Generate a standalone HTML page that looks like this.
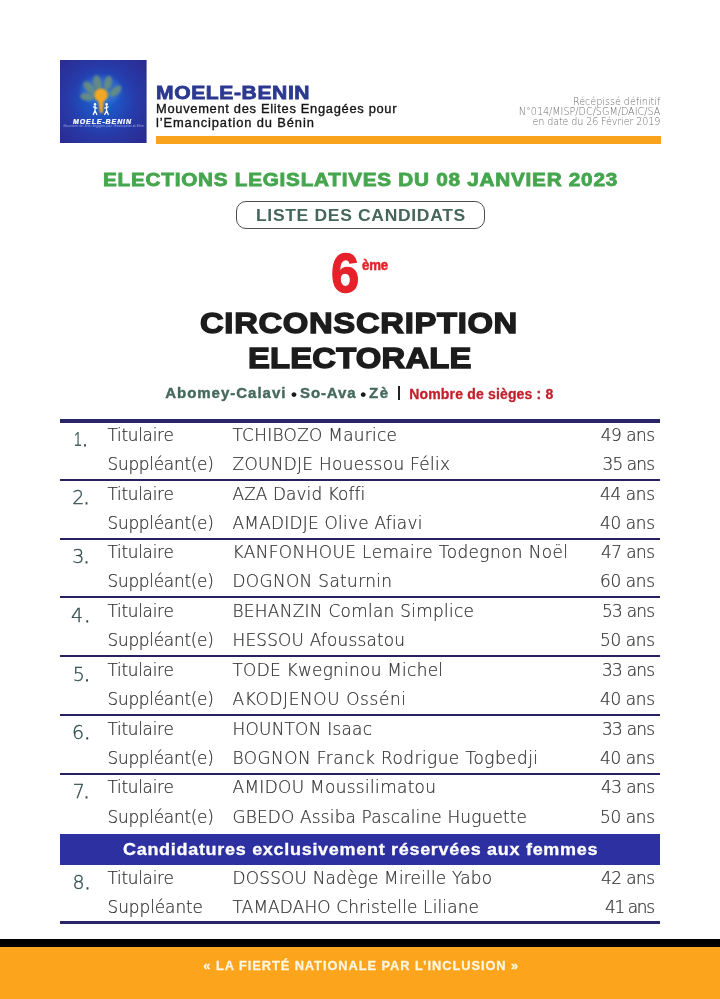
<!DOCTYPE html>
<html lang="fr"><head><meta charset="utf-8"><title>MOELE-BENIN – Liste des candidats</title>
<style>
html,body{margin:0;padding:0;background:#fff;}
body{width:720px;height:999px;position:relative;overflow:hidden;font-family:"Liberation Sans", sans-serif;}
.t{position:absolute;white-space:pre;line-height:0;height:0;display:block;}
.s{position:absolute;}
</style></head><body>
<div class="s" style="left:156px;top:136.2px;width:504.5px;height:7.4px;background:#f9a21c"></div>
<div class="s" style="left:235.5px;top:201px;width:249px;height:27.5px;border:1.4px solid #4d4d4f;border-radius:10px;box-sizing:border-box"></div>
<div class="s" style="left:59.6px;top:419.1px;width:600.6px;height:3.6px;background:#282668"></div>
<div class="s" style="left:60px;top:478.7px;width:600px;height:2px;background:#262262"></div>
<div class="s" style="left:60px;top:537.5px;width:600px;height:2px;background:#262262"></div>
<div class="s" style="left:60px;top:596.2px;width:600px;height:2px;background:#262262"></div>
<div class="s" style="left:60px;top:655px;width:600px;height:2px;background:#262262"></div>
<div class="s" style="left:60px;top:713.8px;width:600px;height:2px;background:#262262"></div>
<div class="s" style="left:60px;top:772.5px;width:600px;height:2px;background:#262262"></div>
<div class="s" style="left:60px;top:833.8px;width:600px;height:30.8px;background:#2d30a0"></div>
<div class="s" style="left:59.6px;top:921px;width:600.6px;height:3.4px;background:#282668"></div>
<div class="s" style="left:0;top:938.7px;width:720px;height:8.6px;background:#000"></div>
<div class="s" style="left:0;top:947px;width:720px;height:52px;background:#fba41c"></div>
<svg class="s" style="left:60px;top:59.5px" width="86.6" height="83.6" viewBox="60 59.5 86.6 83.6">
<defs>
<radialGradient id="lg" gradientUnits="userSpaceOnUse" cx="102" cy="100" r="56"><stop offset="0" stop-color="#1a63d2"/><stop offset=".3" stop-color="#1f50c0"/><stop offset=".62" stop-color="#273aa8"/><stop offset="1" stop-color="#2b2c93"/></radialGradient>
<filter id="b0" x="-40%" y="-40%" width="180%" height="180%"><feGaussianBlur stdDeviation="2.2"/></filter>
<filter id="b1" x="-30%" y="-30%" width="160%" height="160%"><feGaussianBlur stdDeviation="1"/></filter>
<filter id="b2" x="-30%" y="-30%" width="160%" height="160%"><feGaussianBlur stdDeviation=".8"/></filter>
<filter id="b3" x="-30%" y="-30%" width="160%" height="160%"><feGaussianBlur stdDeviation=".3"/></filter>
</defs>
<rect x="60" y="59.5" width="86.6" height="83.6" fill="url(#lg)"/>
<g filter="url(#b0)" fill="#4a8fe0" opacity=".4">
<ellipse cx="101" cy="90" rx="20" ry="14"/>
</g>
<g filter="url(#b1)" fill="#688e80" opacity=".9">
<ellipse cx="87" cy="96.2" rx="7" ry="3.9" transform="rotate(6 87 96.2)"/>
<ellipse cx="89.3" cy="87" rx="7.4" ry="4" transform="rotate(44 89.3 87)"/>
<ellipse cx="97.4" cy="82" rx="4.1" ry="7.4" transform="rotate(-13 97.4 82)"/>
<ellipse cx="108" cy="82.4" rx="4" ry="7.2" transform="rotate(13 108 82.4)"/>
<ellipse cx="115.6" cy="90.6" rx="7.2" ry="3.8" transform="rotate(-44 115.6 90.6)"/>
<ellipse cx="101" cy="94" rx="8.5" ry="6"/>
</g>
<g filter="url(#b2)" fill="#f4a722">
<ellipse cx="101" cy="94.6" rx="6.4" ry="6.6"/>
<path d="M98.2 99 L104 99 L102.8 112.5 L99.8 112.5 Z"/>
</g>
<g filter="url(#b3)" fill="#fff" stroke="#fff" stroke-width="1.3" stroke-linecap="round">
<circle cx="95" cy="103.9" r="1.3" stroke="none"/>
<path d="M95 105.6 L95 110 M95 110 L93.3 114 M95 110 L96.8 114 M93.4 106.5 L96.8 107.6" fill="none"/>
<circle cx="106.6" cy="103.9" r="1.3" stroke="none"/>
<path d="M106.6 105.6 L106.6 110 M106.6 110 L104.8 114 M106.6 110 L108.3 114 M108.2 106.5 L104.8 107.6" fill="none"/>
</g>
<text x="73" y="123.3" font-family="Liberation Sans, sans-serif" font-size="7" font-weight="700" font-style="italic" fill="#fff" stroke="#fff" stroke-width=".25" textLength="58" lengthAdjust="spacing">MOELE-BENIN</text>
<text x="63.5" y="126.9" font-family="Liberation Sans, sans-serif" font-size="2.6" font-style="italic" fill="#a6a9ee" textLength="80.5" lengthAdjust="spacing">Mouvement des Elites Engagées pour l’Emancipation du Bénin</text>
</svg>
<div class="s" style="left:398px;top:386.4px;width:1.6px;height:13.6px;background:#222"></div>

<span class="t" id="t0" style="left:156px;top:92.65px;font-size:19.2px;font-weight:700;color:#2b3990;letter-spacing:0.532px;-webkit-text-stroke:0.8px #2b3990;transform:scaleX(1.1);transform-origin:0 0;">MOELE-BENIN</span>
<span class="t" id="t1" style="left:156px;top:109.33px;font-size:12.9px;font-weight:400;color:#151517;letter-spacing:0.687px;-webkit-text-stroke:0.35px #151517;">Mouvement des Elites Engagées pour</span>
<span class="t" id="t2" style="left:156px;top:123.13px;font-size:12.9px;font-weight:400;color:#151517;letter-spacing:0.886px;-webkit-text-stroke:0.35px #151517;">l’Emancipation du Bénin</span>
<span class="t" id="t3" style="left:573px;top:101.68px;font-size:9.6px;font-weight:200;color:#6d6e71;letter-spacing:-0.017px;font-family:'DejaVu Sans','Liberation Sans',sans-serif;">Récépissé définitif</span>
<span class="t" id="t4" style="left:518.8px;top:111.68px;font-size:9.6px;font-weight:200;color:#6d6e71;letter-spacing:0.001px;font-family:'DejaVu Sans','Liberation Sans',sans-serif;">N°014/MISP/DC/SGM/DAIC/SA</span>
<span class="t" id="t5" style="left:532.5px;top:121.88px;font-size:9.6px;font-weight:200;color:#6d6e71;letter-spacing:-0.116px;font-family:'DejaVu Sans','Liberation Sans',sans-serif;">en date du 26 Février 2019</span>
<span class="t" id="t6" style="left:103.4px;top:180.49px;font-size:18.2px;font-weight:700;color:#45a64d;letter-spacing:0.647px;-webkit-text-stroke:0.8px #45a64d;transform:scaleX(1.14);transform-origin:0 0;">ELECTIONS LEGISLATIVES DU 08 JANVIER 2023</span>
<span class="t" id="t7" style="left:255.8px;top:215.29px;font-size:16.2px;font-weight:700;color:#44665c;letter-spacing:0.635px;transform:scaleX(1.08);transform-origin:0 0;">LISTE DES CANDIDATS</span>
<span class="t" id="t8" style="left:331px;top:273.36px;font-size:56.4px;font-weight:700;color:#e6212a;letter-spacing:0.181px;-webkit-text-stroke:1.3px #e6212a;transform:scaleX(0.9);transform-origin:0 0;">6</span>
<span class="t" id="t9" style="left:362px;top:265.31px;font-size:14.4px;font-weight:700;color:#e6212a;letter-spacing:-0.167px;-webkit-text-stroke:0.5px #e6212a;transform:scaleX(0.92);transform-origin:0 0;">ème</span>
<span class="t" id="t10" style="left:200.4px;top:322.37px;font-size:30.4px;font-weight:700;color:#1c1c1c;letter-spacing:0.604px;-webkit-text-stroke:1.4px #1c1c1c;transform:scaleX(1.08);transform-origin:0 0;">CIRCONSCRIPTION</span>
<span class="t" id="t11" style="left:248.2px;top:357.37px;font-size:30.4px;font-weight:700;color:#1c1c1c;letter-spacing:0.157px;-webkit-text-stroke:1.4px #1c1c1c;transform:scaleX(1.08);transform-origin:0 0;">ELECTORALE</span>
<span class="t" id="t12" style="left:165.2px;top:393.20px;font-size:15px;font-weight:700;color:#45695c;letter-spacing:0.985px;-webkit-text-stroke:0.4px #45695c;">Abomey-Calavi</span>
<span class="t" id="t13" style="left:291px;top:394.71px;font-size:17px;font-weight:700;color:#1a1a1a;letter-spacing:0.000px;">•</span>
<span class="t" id="t14" style="left:300px;top:393.20px;font-size:15px;font-weight:700;color:#45695c;letter-spacing:0.895px;-webkit-text-stroke:0.4px #45695c;">So-Ava</span>
<span class="t" id="t15" style="left:360.3px;top:394.71px;font-size:17px;font-weight:700;color:#1a1a1a;letter-spacing:0.000px;">•</span>
<span class="t" id="t16" style="left:369px;top:393.20px;font-size:15px;font-weight:700;color:#45695c;letter-spacing:1.484px;-webkit-text-stroke:0.4px #45695c;">Zè</span>
<span class="t" id="t17" style="left:409.2px;top:393.55px;font-size:14px;font-weight:700;color:#c4202c;letter-spacing:0.172px;-webkit-text-stroke:0.3px #c4202c;">Nombre de sièges : 8</span>
<span class="t" id="t18" style="left:73.8px;top:438.53px;font-size:19px;font-weight:200;color:#2f4b4d;letter-spacing:0.000px;font-family:'DejaVu Sans','Liberation Sans',sans-serif;"><span style="display:inline-block;font-family:'Liberation Sans',sans-serif;font-size:19.6px;font-weight:400;color:#4a6163;transform:scaleX(.7);transform-origin:0 50%">1</span><span style="margin-left:-2.60px;-webkit-text-stroke:.9px #2f4b4d;">.</span></span>
<span class="t" id="t19" style="left:107.5px;top:434.95px;font-size:16.9px;font-weight:200;color:#343436;letter-spacing:-0.279px;font-family:'DejaVu Sans','Liberation Sans',sans-serif;-webkit-text-stroke:0.22px #343436;">Titulaire</span>
<span class="t" id="t20" style="left:232.5px;top:434.95px;font-size:16.9px;font-weight:200;color:#343436;letter-spacing:0.297px;font-family:'DejaVu Sans','Liberation Sans',sans-serif;-webkit-text-stroke:0.22px #343436;">TCHIBOZO Maurice</span>
<span class="t" id="t21" style="left:600.8px;top:434.95px;font-size:16.9px;font-weight:200;color:#343436;letter-spacing:-0.504px;font-family:'DejaVu Sans','Liberation Sans',sans-serif;-webkit-text-stroke:0.22px #343436;">49 ans</span>
<span class="t" id="t22" style="left:107.5px;top:463.85px;font-size:16.9px;font-weight:200;color:#343436;letter-spacing:-0.265px;font-family:'DejaVu Sans','Liberation Sans',sans-serif;-webkit-text-stroke:0.22px #343436;">Suppléant(e)</span>
<span class="t" id="t23" style="left:232.5px;top:463.85px;font-size:16.9px;font-weight:200;color:#343436;letter-spacing:0.328px;font-family:'DejaVu Sans','Liberation Sans',sans-serif;-webkit-text-stroke:0.22px #343436;">ZOUNDJE Houessou Félix</span>
<span class="t" id="t24" style="left:602.5px;top:463.85px;font-size:16.9px;font-weight:200;color:#343436;letter-spacing:-0.844px;font-family:'DejaVu Sans','Liberation Sans',sans-serif;-webkit-text-stroke:0.22px #343436;">35 ans</span>
<span class="t" id="t25" style="left:72.2px;top:497.28px;font-size:19px;font-weight:200;color:#2f4b4d;letter-spacing:0.000px;font-family:'DejaVu Sans','Liberation Sans',sans-serif;-webkit-text-stroke:0.3px #2f4b4d;">2<span style="margin-left:-0.68px;-webkit-text-stroke:.9px #2f4b4d;">.</span></span>
<span class="t" id="t26" style="left:107.5px;top:493.70px;font-size:16.9px;font-weight:200;color:#343436;letter-spacing:-0.279px;font-family:'DejaVu Sans','Liberation Sans',sans-serif;-webkit-text-stroke:0.22px #343436;">Titulaire</span>
<span class="t" id="t27" style="left:232.5px;top:493.70px;font-size:16.9px;font-weight:200;color:#343436;letter-spacing:0.100px;font-family:'DejaVu Sans','Liberation Sans',sans-serif;-webkit-text-stroke:0.22px #343436;">AZA David Koffi</span>
<span class="t" id="t28" style="left:600px;top:493.70px;font-size:16.9px;font-weight:200;color:#343436;letter-spacing:-0.344px;font-family:'DejaVu Sans','Liberation Sans',sans-serif;-webkit-text-stroke:0.22px #343436;">44 ans</span>
<span class="t" id="t29" style="left:107.5px;top:522.65px;font-size:16.9px;font-weight:200;color:#343436;letter-spacing:-0.265px;font-family:'DejaVu Sans','Liberation Sans',sans-serif;-webkit-text-stroke:0.22px #343436;">Suppléant(e)</span>
<span class="t" id="t30" style="left:232.5px;top:522.65px;font-size:16.9px;font-weight:200;color:#343436;letter-spacing:0.256px;font-family:'DejaVu Sans','Liberation Sans',sans-serif;-webkit-text-stroke:0.22px #343436;">AMADIDJE Olive Afiavi</span>
<span class="t" id="t31" style="left:600px;top:522.65px;font-size:16.9px;font-weight:200;color:#343436;letter-spacing:-0.344px;font-family:'DejaVu Sans','Liberation Sans',sans-serif;-webkit-text-stroke:0.22px #343436;">40 ans</span>
<span class="t" id="t32" style="left:72.2px;top:556.03px;font-size:19px;font-weight:200;color:#2f4b4d;letter-spacing:0.000px;font-family:'DejaVu Sans','Liberation Sans',sans-serif;-webkit-text-stroke:0.3px #2f4b4d;">3<span style="margin-left:-0.68px;-webkit-text-stroke:.9px #2f4b4d;">.</span></span>
<span class="t" id="t33" style="left:107.5px;top:552.45px;font-size:16.9px;font-weight:200;color:#343436;letter-spacing:-0.279px;font-family:'DejaVu Sans','Liberation Sans',sans-serif;-webkit-text-stroke:0.22px #343436;">Titulaire</span>
<span class="t" id="t34" style="left:232.5px;top:552.45px;font-size:16.9px;font-weight:200;color:#343436;letter-spacing:0.418px;font-family:'DejaVu Sans','Liberation Sans',sans-serif;-webkit-text-stroke:0.22px #343436;">KANFONHOUE Lemaire Todegnon Noël</span>
<span class="t" id="t35" style="left:601px;top:552.45px;font-size:16.9px;font-weight:200;color:#343436;letter-spacing:-0.544px;font-family:'DejaVu Sans','Liberation Sans',sans-serif;-webkit-text-stroke:0.22px #343436;">47 ans</span>
<span class="t" id="t36" style="left:107.5px;top:581.45px;font-size:16.9px;font-weight:200;color:#343436;letter-spacing:-0.265px;font-family:'DejaVu Sans','Liberation Sans',sans-serif;-webkit-text-stroke:0.22px #343436;">Suppléant(e)</span>
<span class="t" id="t37" style="left:232.5px;top:581.45px;font-size:16.9px;font-weight:200;color:#343436;letter-spacing:0.358px;font-family:'DejaVu Sans','Liberation Sans',sans-serif;-webkit-text-stroke:0.22px #343436;">DOGNON Saturnin</span>
<span class="t" id="t38" style="left:600px;top:581.45px;font-size:16.9px;font-weight:200;color:#343436;letter-spacing:-0.344px;font-family:'DejaVu Sans','Liberation Sans',sans-serif;-webkit-text-stroke:0.22px #343436;">60 ans</span>
<span class="t" id="t39" style="left:71.0px;top:614.78px;font-size:19px;font-weight:200;color:#2f4b4d;letter-spacing:0.000px;font-family:'DejaVu Sans','Liberation Sans',sans-serif;-webkit-text-stroke:0.3px #2f4b4d;">4<span style="margin-left:1.22px;-webkit-text-stroke:.9px #2f4b4d;">.</span></span>
<span class="t" id="t40" style="left:107.5px;top:611.20px;font-size:16.9px;font-weight:200;color:#343436;letter-spacing:-0.279px;font-family:'DejaVu Sans','Liberation Sans',sans-serif;-webkit-text-stroke:0.22px #343436;">Titulaire</span>
<span class="t" id="t41" style="left:232.5px;top:611.20px;font-size:16.9px;font-weight:200;color:#343436;letter-spacing:0.303px;font-family:'DejaVu Sans','Liberation Sans',sans-serif;-webkit-text-stroke:0.22px #343436;">BEHANZIN Comlan Simplice</span>
<span class="t" id="t42" style="left:602px;top:611.20px;font-size:16.9px;font-weight:200;color:#343436;letter-spacing:-0.744px;font-family:'DejaVu Sans','Liberation Sans',sans-serif;-webkit-text-stroke:0.22px #343436;">53 ans</span>
<span class="t" id="t43" style="left:107.5px;top:640.25px;font-size:16.9px;font-weight:200;color:#343436;letter-spacing:-0.265px;font-family:'DejaVu Sans','Liberation Sans',sans-serif;-webkit-text-stroke:0.22px #343436;">Suppléant(e)</span>
<span class="t" id="t44" style="left:232.5px;top:640.25px;font-size:16.9px;font-weight:200;color:#343436;letter-spacing:0.193px;font-family:'DejaVu Sans','Liberation Sans',sans-serif;-webkit-text-stroke:0.22px #343436;">HESSOU Afoussatou</span>
<span class="t" id="t45" style="left:600px;top:640.25px;font-size:16.9px;font-weight:200;color:#343436;letter-spacing:-0.344px;font-family:'DejaVu Sans','Liberation Sans',sans-serif;-webkit-text-stroke:0.22px #343436;">50 ans</span>
<span class="t" id="t46" style="left:72.7px;top:673.53px;font-size:19px;font-weight:200;color:#2f4b4d;letter-spacing:0.000px;font-family:'DejaVu Sans','Liberation Sans',sans-serif;-webkit-text-stroke:0.3px #2f4b4d;">5<span style="margin-left:-0.68px;-webkit-text-stroke:.9px #2f4b4d;">.</span></span>
<span class="t" id="t47" style="left:107.5px;top:669.95px;font-size:16.9px;font-weight:200;color:#343436;letter-spacing:-0.279px;font-family:'DejaVu Sans','Liberation Sans',sans-serif;-webkit-text-stroke:0.22px #343436;">Titulaire</span>
<span class="t" id="t48" style="left:232.5px;top:669.95px;font-size:16.9px;font-weight:200;color:#343436;letter-spacing:0.278px;font-family:'DejaVu Sans','Liberation Sans',sans-serif;-webkit-text-stroke:0.22px #343436;">TODE Kwegninou Michel</span>
<span class="t" id="t49" style="left:602px;top:669.95px;font-size:16.9px;font-weight:200;color:#343436;letter-spacing:-0.744px;font-family:'DejaVu Sans','Liberation Sans',sans-serif;-webkit-text-stroke:0.22px #343436;">33 ans</span>
<span class="t" id="t50" style="left:107.5px;top:699.05px;font-size:16.9px;font-weight:200;color:#343436;letter-spacing:-0.265px;font-family:'DejaVu Sans','Liberation Sans',sans-serif;-webkit-text-stroke:0.22px #343436;">Suppléant(e)</span>
<span class="t" id="t51" style="left:232.5px;top:699.05px;font-size:16.9px;font-weight:200;color:#343436;letter-spacing:0.632px;font-family:'DejaVu Sans','Liberation Sans',sans-serif;-webkit-text-stroke:0.22px #343436;">AKODJENOU Osséni</span>
<span class="t" id="t52" style="left:600px;top:699.05px;font-size:16.9px;font-weight:200;color:#343436;letter-spacing:-0.344px;font-family:'DejaVu Sans','Liberation Sans',sans-serif;-webkit-text-stroke:0.22px #343436;">40 ans</span>
<span class="t" id="t53" style="left:72.0px;top:732.28px;font-size:19px;font-weight:200;color:#2f4b4d;letter-spacing:0.000px;font-family:'DejaVu Sans','Liberation Sans',sans-serif;-webkit-text-stroke:0.3px #2f4b4d;">6<span style="margin-left:0.22px;-webkit-text-stroke:.9px #2f4b4d;">.</span></span>
<span class="t" id="t54" style="left:107.5px;top:728.70px;font-size:16.9px;font-weight:200;color:#343436;letter-spacing:-0.279px;font-family:'DejaVu Sans','Liberation Sans',sans-serif;-webkit-text-stroke:0.22px #343436;">Titulaire</span>
<span class="t" id="t55" style="left:232.5px;top:728.70px;font-size:16.9px;font-weight:200;color:#343436;letter-spacing:0.259px;font-family:'DejaVu Sans','Liberation Sans',sans-serif;-webkit-text-stroke:0.22px #343436;">HOUNTON Isaac</span>
<span class="t" id="t56" style="left:602px;top:728.70px;font-size:16.9px;font-weight:200;color:#343436;letter-spacing:-0.744px;font-family:'DejaVu Sans','Liberation Sans',sans-serif;-webkit-text-stroke:0.22px #343436;">33 ans</span>
<span class="t" id="t57" style="left:107.5px;top:757.85px;font-size:16.9px;font-weight:200;color:#343436;letter-spacing:-0.265px;font-family:'DejaVu Sans','Liberation Sans',sans-serif;-webkit-text-stroke:0.22px #343436;">Suppléant(e)</span>
<span class="t" id="t58" style="left:232.5px;top:757.85px;font-size:16.9px;font-weight:200;color:#343436;letter-spacing:0.469px;font-family:'DejaVu Sans','Liberation Sans',sans-serif;-webkit-text-stroke:0.22px #343436;">BOGNON Franck Rodrigue Togbedji</span>
<span class="t" id="t59" style="left:600px;top:757.85px;font-size:16.9px;font-weight:200;color:#343436;letter-spacing:-0.344px;font-family:'DejaVu Sans','Liberation Sans',sans-serif;-webkit-text-stroke:0.22px #343436;">40 ans</span>
<span class="t" id="t60" style="left:72.7px;top:791.03px;font-size:19px;font-weight:200;color:#2f4b4d;letter-spacing:0.000px;font-family:'DejaVu Sans','Liberation Sans',sans-serif;-webkit-text-stroke:0.3px #2f4b4d;">7<span style="margin-left:-1.18px;-webkit-text-stroke:.9px #2f4b4d;">.</span></span>
<span class="t" id="t61" style="left:107.5px;top:787.45px;font-size:16.9px;font-weight:200;color:#343436;letter-spacing:-0.279px;font-family:'DejaVu Sans','Liberation Sans',sans-serif;-webkit-text-stroke:0.22px #343436;">Titulaire</span>
<span class="t" id="t62" style="left:232.5px;top:787.45px;font-size:16.9px;font-weight:200;color:#343436;letter-spacing:0.347px;font-family:'DejaVu Sans','Liberation Sans',sans-serif;-webkit-text-stroke:0.22px #343436;">AMIDOU Moussilimatou</span>
<span class="t" id="t63" style="left:601px;top:787.45px;font-size:16.9px;font-weight:200;color:#343436;letter-spacing:-0.544px;font-family:'DejaVu Sans','Liberation Sans',sans-serif;-webkit-text-stroke:0.22px #343436;">43 ans</span>
<span class="t" id="t64" style="left:107.5px;top:816.65px;font-size:16.9px;font-weight:200;color:#343436;letter-spacing:-0.265px;font-family:'DejaVu Sans','Liberation Sans',sans-serif;-webkit-text-stroke:0.22px #343436;">Suppléant(e)</span>
<span class="t" id="t65" style="left:232.5px;top:816.65px;font-size:16.9px;font-weight:200;color:#343436;letter-spacing:0.179px;font-family:'DejaVu Sans','Liberation Sans',sans-serif;-webkit-text-stroke:0.22px #343436;">GBEDO Assiba Pascaline Huguette</span>
<span class="t" id="t66" style="left:600px;top:816.65px;font-size:16.9px;font-weight:200;color:#343436;letter-spacing:-0.344px;font-family:'DejaVu Sans','Liberation Sans',sans-serif;-webkit-text-stroke:0.22px #343436;">50 ans</span>
<span class="t" id="t67" style="left:72.4px;top:881.63px;font-size:19px;font-weight:200;color:#2f4b4d;letter-spacing:0.000px;font-family:'DejaVu Sans','Liberation Sans',sans-serif;-webkit-text-stroke:0.3px #2f4b4d;">8<span style="margin-left:0.12px;-webkit-text-stroke:.9px #2f4b4d;">.</span></span>
<span class="t" id="t68" style="left:107.5px;top:878.15px;font-size:16.9px;font-weight:200;color:#343436;letter-spacing:-0.279px;font-family:'DejaVu Sans','Liberation Sans',sans-serif;-webkit-text-stroke:0.22px #343436;">Titulaire</span>
<span class="t" id="t69" style="left:232.5px;top:878.15px;font-size:16.9px;font-weight:200;color:#343436;letter-spacing:0.203px;font-family:'DejaVu Sans','Liberation Sans',sans-serif;-webkit-text-stroke:0.22px #343436;">DOSSOU Nadège Mireille Yabo</span>
<span class="t" id="t70" style="left:601px;top:878.15px;font-size:16.9px;font-weight:200;color:#343436;letter-spacing:-0.544px;font-family:'DejaVu Sans','Liberation Sans',sans-serif;-webkit-text-stroke:0.22px #343436;">42 ans</span>
<span class="t" id="t71" style="left:107.5px;top:906.85px;font-size:16.9px;font-weight:200;color:#343436;letter-spacing:-0.059px;font-family:'DejaVu Sans','Liberation Sans',sans-serif;-webkit-text-stroke:0.22px #343436;">Suppléante</span>
<span class="t" id="t72" style="left:232.5px;top:906.85px;font-size:16.9px;font-weight:200;color:#343436;letter-spacing:0.159px;font-family:'DejaVu Sans','Liberation Sans',sans-serif;-webkit-text-stroke:0.22px #343436;">TAMADAHO Christelle Liliane</span>
<span class="t" id="t73" style="left:605px;top:906.85px;font-size:16.9px;font-weight:200;color:#343436;letter-spacing:-1.344px;font-family:'DejaVu Sans','Liberation Sans',sans-serif;-webkit-text-stroke:0.22px #343436;">41 ans</span>
<span class="t" id="t74" style="left:122.5px;top:849.61px;font-size:17px;font-weight:700;color:#fff;letter-spacing:0.652px;-webkit-text-stroke:0.3px #fff;transform:scaleX(1.06);transform-origin:0 0;">Candidatures exclusivement réservées aux femmes</span>
<span class="t" id="t75" style="left:203.3px;top:965.76px;font-size:12.8px;font-weight:700;color:#fff6df;letter-spacing:0.959px;-webkit-text-stroke:0.3px #fff6df;">« LA FIERTÉ NATIONALE PAR L’INCLUSION »</span>
</body></html>
